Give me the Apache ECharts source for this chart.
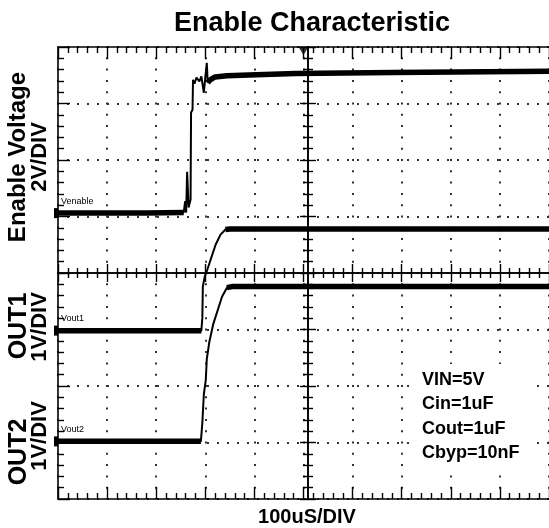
<!DOCTYPE html>
<html><head><meta charset="utf-8">
<script src="https://cdn.jsdelivr.net/npm/echarts@6/dist/echarts.min.js"></script>
<style>html,body{margin:0;padding:0;background:#fff}#c{width:549px;height:528px}</style>
</head><body><div id="c"></div>
<script>
// ---- data (time in µs from left edge, level in screen divisions from bottom) ----
const venableTime = [0, 60, 120, 180, 256, 259, 261, 263, 266, 270, 271, 274, 275, 278, 282, 288, 292, 297, 300, 303, 305, 310, 320, 344, 404, 484, 684, 1000];
const venableDiv  = [5.06, 5.06, 5.06, 5.06, 5.07, 5.27, 5.07, 5.79, 5.16, 5.30, 6.84, 6.89, 7.42, 7.35, 7.46, 7.39, 7.48, 7.19, 7.46, 7.72, 7.37, 7.42, 7.47, 7.49, 7.51, 7.53, 7.55, 7.57];
const vout1Time = [0, 292, 294, 295, 299, 303, 311, 321, 331, 341, 350, 1000];
const vout1Div  = [2.98, 2.98, 3.21, 3.76, 3.94, 4.03, 4.24, 4.50, 4.68, 4.77, 4.78, 4.78];
const vout2Time = [0, 291, 294, 297, 301, 303, 308, 316, 327, 334, 344, 354, 1000];
const vout2Div  = [1.02, 1.02, 1.35, 1.85, 2.11, 2.47, 2.77, 3.09, 3.39, 3.58, 3.74, 3.76, 3.76];
const edgeWindows = { Venable: [256, 305], Vout1: [292, 341], Vout2: [291, 344] };
const triggerTime = 500;
const traceNames = ['Venable', 'Vout1', 'Vout2'];
const channelLabels = [['Enable Voltage', '2V/DIV'], ['OUT1', '1V/DIV'], ['OUT2', '1V/DIV']];
const titleText = 'Enable Characteristic';
const xLabelText = '100uS/DIV';
const noteLines = ['VIN=5V', 'Cin=1uF', 'Cout=1uF', 'Cbyp=10nF'];
const T_MIN = 0, T_MAX = 1000, T_DIV = 100, D_MIN = 0, D_MAX = 8;

// ---- chart ----
const FONT = '"Liberation Sans", Arial, sans-serif';
const K = '#000';
const chart = echarts.init(document.getElementById('c'), null, {renderer: 'canvas'});
const pairs = (t, v) => t.map((x, i) => [x, v[i]]);

function axisBase(extra) {
  return Object.assign({
    type: 'value', gridIndex: 0, axisLabel: {show: false}, splitLine: {show: false},
    axisLine: {show: true, onZero: false, lineStyle: {color: K, width: 1.6}},
    axisTick: {show: true, inside: true, length: 12, lineStyle: {color: K, width: 1.4}},
    minorTick: {show: true, splitNumber: 5, length: 6, lineStyle: {color: K, width: 1.4}}
  }, extra);
}
const xr = {min: T_MIN, max: T_MAX, interval: T_DIV};
const yr = {min: D_MIN, max: D_MAX, interval: 1};

const xAxes = [
  axisBase(Object.assign({position: 'bottom',
    splitLine: {show: true, lineStyle: {color: '#333', width: 2, type: [2, 9.3], dashOffset: 1}}}, xr)),
  axisBase(Object.assign({position: 'top'}, xr)),
  axisBase(Object.assign({position: 'bottom', offset: -226,
    axisTick: {show: true, inside: true, length: 9, lineStyle: {color: K, width: 1.4}},
    minorTick: {show: true, splitNumber: 5, length: 5, lineStyle: {color: K, width: 1.4}}}, xr)),
  axisBase(Object.assign({position: 'bottom', offset: -226,
    axisTick: {show: true, inside: false, length: 9, lineStyle: {color: K, width: 1.4}},
    minorTick: {show: true, splitNumber: 5, length: 5, lineStyle: {color: K, width: 1.4}}}, xr))
];
const yAxes = [
  axisBase(Object.assign({position: 'left',
    splitLine: {show: true, lineStyle: {color: '#333', width: 2, type: [2, 8], dashOffset: 1}}}, yr)),
  axisBase(Object.assign({position: 'left', offset: -250,
    axisTick: {show: true, inside: true, length: 8, lineStyle: {color: K, width: 1.4}},
    minorTick: {show: true, splitNumber: 5, length: 5, lineStyle: {color: K, width: 1.4}}}, yr)),
  axisBase(Object.assign({position: 'left', offset: -250,
    axisTick: {show: true, inside: false, length: 8, lineStyle: {color: K, width: 1.4}},
    minorTick: {show: true, splitNumber: 5, length: 5, lineStyle: {color: K, width: 1.4}}}, yr))
];

const traces = [
  {name: 'Venable', t: venableTime, v: venableDiv},
  {name: 'Vout1', t: vout1Time, v: vout1Div},
  {name: 'Vout2', t: vout2Time, v: vout2Div}
];
const series = [];
traces.forEach(tr => {
  const all = pairs(tr.t, tr.v);
  const [a, b] = edgeWindows[tr.name];
  const first = {value: all[0], symbol: 'rect', symbolSize: [4, 10], symbolOffset: [-2, 0]};
  series.push({type: 'line', name: tr.name, data: [first].concat(all.slice(1)), symbol: 'none', showSymbol: true,
    lineStyle: {color: K, width: 2}, itemStyle: {color: K}, animation: false, z: 3, silent: true});
  series.push({type: 'line', data: all.filter(p => p[0] <= a), symbol: 'none',
    lineStyle: {color: K, width: 5.5}, animation: false, z: 4, silent: true});
  series.push({type: 'line', data: all.filter(p => p[0] >= b), symbol: 'none',
    lineStyle: {color: K, width: 5.5}, animation: false, z: 4, silent: true});
});
series.push({type: 'scatter', data: [[triggerTime, D_MAX]], symbol: 'path://M0,0L10,0L5,8Z',
  symbolSize: [10, 8], symbolOffset: [0, 4], itemStyle: {color: K}, z: 6, animation: false, clip: false, silent: true});

chart.setOption({
  backgroundColor: '#fff',
  animation: false,
  grid: {left: 58, top: 47, width: 500, height: 452, containLabel: false},
  xAxis: xAxes,
  yAxis: yAxes,
  series: series
});

// ---- texts ----
const g = [];
g.push({type: 'text', x: 312, y: 24, z: 100, style: {text: titleText, font: 'bold 27px ' + FONT, fill: K, textAlign: 'center', textVerticalAlign: 'middle'}});
g.push({type: 'text', x: 307, y: 517, z: 100, style: {text: xLabelText, font: 'bold 20px ' + FONT, fill: K, textAlign: 'center', textVerticalAlign: 'middle'}});
const labelPos = [[[18, 157], [40, 157]], [[19, 326], [40, 327]], [[19, 452], [40, 436]]];
const labelSize = [[24, 22], [25, 22], [25, 22]];
channelLabels.forEach((pair, i) => {
  pair.forEach((txt, j) => {
    g.push({type: 'text', x: labelPos[i][j][0], y: labelPos[i][j][1], rotation: Math.PI / 2, z: 100,
      style: {text: txt, font: 'bold ' + labelSize[i][j] + 'px ' + FONT, fill: K, textAlign: 'center', textVerticalAlign: 'middle'}});
  });
});
// trace names just above each trace's left end
traces.forEach(tr => {
  const p = chart.convertToPixel({gridIndex: 0}, [tr.t[0], tr.v[0]]);
  g.push({type: 'text', x: p[0] + 3, y: p[1] - 12, z: 100,
    style: {text: tr.name, font: '9px ' + FONT, fill: K, textAlign: 'left', textVerticalAlign: 'middle'}});
});
// conditions note on a white box
g.push({type: 'rect', shape: {x: 412, y: 364, width: 122, height: 106}, z: 99, style: {fill: '#fff'}});
noteLines.forEach((txt, i) => {
  g.push({type: 'text', x: 422, y: 380 + i * 24.5, z: 100,
    style: {text: txt, font: 'bold 18px ' + FONT, fill: K, textAlign: 'left', textVerticalAlign: 'middle'}});
});
chart.setOption({graphic: g});
</script>
</body></html>
